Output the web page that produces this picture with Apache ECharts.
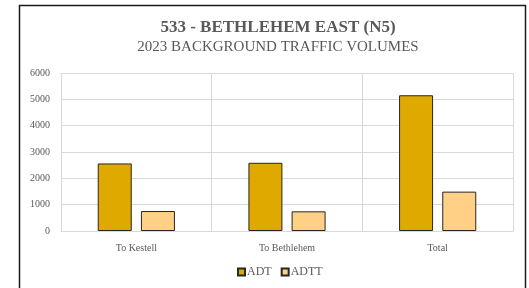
<!DOCTYPE html>
<html>
<head>
<meta charset="utf-8">
<script src="https://cdn.jsdelivr.net/npm/echarts@6/dist/echarts.min.js"></script>
<style>
  html, body { margin: 0; padding: 0; background: #fff; }
  #chart { width: 529px; height: 288px; }
</style>
</head>
<body>
<div id="chart"></div>
<script>
var categories = ["To Kestell", "To Bethlehem", "Total"];
var adtValues = [2565, 2590, 5155];
var adttValues = [758, 746, 1495];
var yTicks = [0, 1000, 2000, 3000, 4000, 5000, 6000];

var font = "Liberation Serif";
var myChart = echarts.init(document.getElementById("chart"));
myChart.setOption({
  animation: false,
  textStyle: { fontFamily: font },
  title: {
    text: "533 - BETHLEHEM EAST (N5)",
    subtext: "2023 BACKGROUND TRAFFIC VOLUMES",
    left: 273,
    textAlign: "center",
    top: 14,
    itemGap: 4,
    textStyle: { fontFamily: font, fontSize: 17, fontWeight: "bold", color: "#595959" },
    subtextStyle: { fontFamily: font, fontSize: 15, color: "#595959" }
  },
  legend: {
    bottom: 5,
    left: 232,
    icon: "rect",
    itemWidth: 7,
    itemHeight: 7,
    itemGap: 9,
    textStyle: { fontFamily: font, fontSize: 12, color: "#595959", padding: [0, 0, 0, -3] },
    data: ["ADT", "ADTT"]
  },
  grid: { left: 61, right: 16, top: 73, bottom: 57 },
  xAxis: {
    type: "category",
    data: categories,
    axisLine: { lineStyle: { color: "#d9d9d9" } },
    axisTick: { show: false },
    axisLabel: { color: "#595959", fontSize: 10, margin: 12 },
    splitLine: {
      show: true,
      // no line on the right edge of the plot
      interval: function (i) { return i < categories.length; },
      lineStyle: { color: "#d9d9d9" }
    }
  },
  yAxis: {
    type: "value",
    min: yTicks[0],
    max: yTicks[yTicks.length - 1],
    interval: 1000,
    axisLine: { show: false },
    axisTick: { show: false },
    axisLabel: {
      color: "#595959",
      fontSize: 10,
      margin: 11,
      formatter: function (v) { return String(v); }
    },
    splitLine: { lineStyle: { color: "#d9d9d9" } }
  },
  series: [
    {
      name: "ADT",
      type: "bar",
      data: adtValues,
      barWidth: 34,
      barGap: "27%",
      itemStyle: { color: "#E0A900", borderColor: "#262626", borderWidth: 1 }
    },
    {
      name: "ADTT",
      type: "bar",
      data: adttValues,
      barWidth: 34,
      itemStyle: { color: "#FFD086", borderColor: "#262626", borderWidth: 1 }
    }
  ],
  graphic: [
    {
      type: "rect",
      shape: { x: 19.5, y: 5.5, width: 506, height: 300 },
      style: { fill: "none", stroke: "#1a1a1a", lineWidth: 1.5 },
      silent: true
    }
  ]
});
</script>
</body>
</html>
